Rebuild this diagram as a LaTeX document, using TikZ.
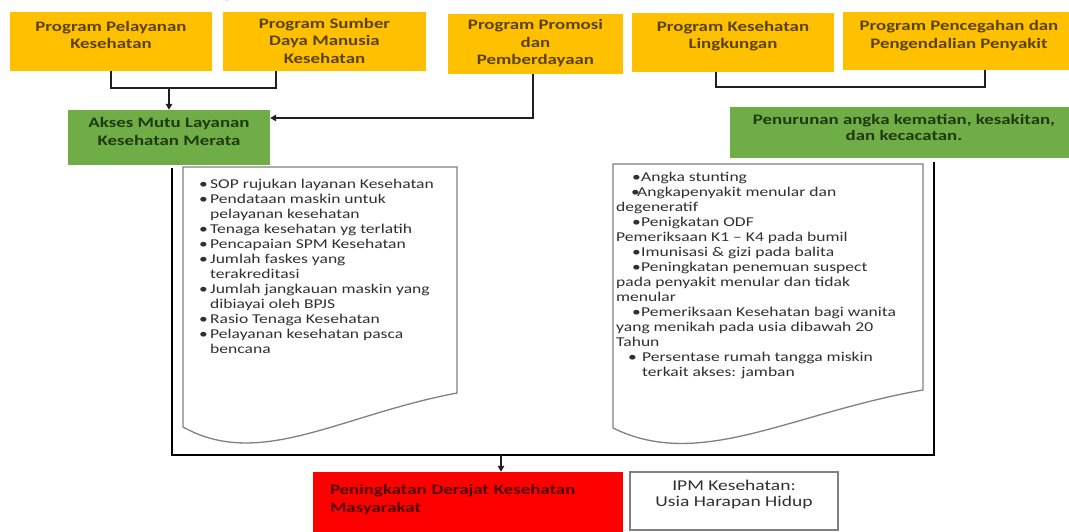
\documentclass[tikz,border=0pt]{standalone}
\usepackage{fontspec}
\setmainfont{Carlito}[FakeStretch=1.3]
\usetikzlibrary{arrows.meta,calc}
\definecolor{yel}{HTML}{FFC000}
\definecolor{yeltxt}{HTML}{5A4300}
\definecolor{grn}{HTML}{70AD47}
\definecolor{grntxt}{HTML}{1E3A10}
\definecolor{redtxt}{HTML}{500000}
\definecolor{doctxt}{HTML}{303030}
\definecolor{docline}{HTML}{808080}
\newcommand\myup[2]{\raisebox{#1}[\height][\depth]{#2}}
\newcommand\myctr[1]{\begin{tabular}{@{}c@{}}#1\end{tabular}}
\newcommand\mylft[1]{\begin{tabular}{@{}l@{}}#1\end{tabular}}
\begin{document}
\begin{tikzpicture}[x=1pt,y=-1pt,
  prog/.style={fill=yel, inner sep=0pt, text=yeltxt, font=\fontsize{14.5}{17.5}\selectfont\bfseries},
  goal/.style={fill=grn, inner sep=0pt, text=grntxt, font=\fontsize{14.5}{18}\selectfont\bfseries},
  doctext/.style={inner sep=0pt, text=doctxt, font=\fontsize{13.5}{15}\selectfont},
  docshape/.style={draw=docline, line width=1.3pt, fill=white},
  conn/.style={draw=black!88, line width=2pt},
  arr/.style={conn, -{Triangle[length=6pt,width=6.5pt]}}]
\useasboundingbox (0,0) rectangle (1069,532);
\fill[white] (0,0) rectangle (1069,532);

% fragment of a cut-off heading
\node[anchor=base, inner sep=0pt, text=black!85, font=\fontsize{30}{30}\selectfont] (hd) at (227,-4) {g};

% programme boxes
\node[prog, minimum width=202pt, minimum height=59pt] (p1) at (111,41.5)
  {\myup{5pt}{\myctr{Program Pelayanan\\Kesehatan}}};
\node[prog, minimum width=203pt, minimum height=59pt] (p2) at (324.5,41.5)
  {\myup{-1pt}{\myctr{Program Sumber\\Daya Manusia\\Kesehatan}}};
\node[prog, minimum width=175pt, minimum height=60pt] (p3) at (535.5,44)
  {\myctr{Program Promosi\\dan\\Pemberdayaan}};
\node[prog, minimum width=202pt, minimum height=59pt] (p4) at (733,42.5)
  {\myup{6pt}{\myctr{Program Kesehatan\\Lingkungan}}};
\node[prog, minimum width=232pt, minimum height=58pt] (p5) at (959,41)
  {\myup{5pt}{\myctr{Program Pencegahan dan\\Pengendalian Penyakit}}};

% green outcome boxes
\node[goal, minimum width=202pt, minimum height=55pt] (a1) at (169,137.5)
  {\myup{5pt}{\myctr{Akses Mutu Layanan\\Kesehatan Merata}}};
\node[goal, minimum width=348pt, minimum height=51pt, font=\fontsize{14.5}{15.5}\selectfont\bfseries] (g2) at (904,132.5)
  {\myup{3pt}{\myctr{Penurunan angka kematian, kesakitan,\\dan kecacatan.}}};

% connectors at the top
\coordinate (c1) at (276,88);
\draw[conn] (p1.south) |- (c1) -- (p2.south -| c1);
\draw[arr] (a1.north |- c1) -- (a1.north);
\coordinate (c2) at (533,118);
\draw[arr] (p3.south -| c2) -- (c2) -- (a1.east |- c2);
\coordinate (c3) at (716,87);
\coordinate (c4) at (985,87);
\draw[conn] (p4.south -| c3) -- (c3) -- (c4) -- (p5.south -| c4);

% enclosing frame
\coordinate (f1) at (172,455);
\coordinate (f2) at (934,455);
\draw[conn, draw=black] ($(a1.south -| f1)+(0,3)$) -- (f1) -- (f2) -- ($(g2.south -| f2)+(0,4)$);

% document shapes
\draw[docshape] (183,167) -- (457,167) -- (457,393)
  .. controls (340,415) and (260,470) .. (183,427) -- cycle;
\draw[docshape] (613,164) -- (923,164) -- (923,390)
  .. controls (791,413) and (700,471) .. (613,428) -- cycle;

\node[doctext, anchor=base west] (t1) at (199,189) {\begin{tabular}[t]{@{}p{11pt}@{}l@{}}
\textbullet & SOP rujukan layanan Kesehatan\\
\textbullet & Pendataan maskin untuk\\
 & pelayanan kesehatan\\
\textbullet & Tenaga kesehatan yg terlatih\\
\textbullet & Pencapaian SPM Kesehatan\\
\textbullet & Jumlah faskes yang\\
 & terakreditasi\\
\textbullet & Jumlah jangkauan maskin yang\\
 & dibiayai oleh BPJS\\
\textbullet & Rasio Tenaga Kesehatan\\
\textbullet & Pelayanan kesehatan pasca\\
 & bencana
\end{tabular}};

\node[doctext, anchor=base west] (t2) at (616,182) {\begin{tabular}[t]{@{}l@{}}
\hspace*{16pt}\makebox[9pt][l]{\textbullet}Angka stunting\\
\hspace*{15pt}\makebox[6pt][l]{\textbullet}Angkapenyakit menular dan\\
degeneratif\\
\hspace*{16pt}\makebox[9pt][l]{\textbullet}Penigkatan ODF\\
Pemeriksaan K1 – K4 pada bumil\\
\hspace*{16pt}\makebox[9pt][l]{\textbullet}Imunisasi \& gizi pada balita\\
\hspace*{16pt}\makebox[9pt][l]{\textbullet}Peningkatan penemuan suspect\\
pada penyakit menular dan tidak\\
menular\\
\hspace*{16pt}\makebox[9pt][l]{\textbullet}Pemeriksaan Kesehatan bagi wanita\\
yang menikah pada usia dibawah 20\\
Tahun\\
\hspace*{12pt}\makebox[14pt][l]{\textbullet}Persentase rumah tangga miskin\\
\hspace*{26pt}terkait akses: jamban
\end{tabular}};

% bottom boxes
\node[fill=red, inner sep=0pt, minimum width=310pt, minimum height=70pt, text=redtxt,
  font=\fontsize{14.5}{18}\selectfont\bfseries, text width=276pt] (r1) at (468,507)
  {\myup{7pt}{\mylft{Peningkatan Derajat Kesehatan\\Masyarakat}}};
\node[draw=docline, line width=1.3pt, fill=white, inner sep=0pt, minimum width=208pt, minimum height=58pt,
  text=doctxt, font=\fontsize{15}{16}\selectfont] (w1) at (734,501)
  {\myup{6pt}{\myctr{IPM Kesehatan:\\Usia Harapan Hidup}}};

\coordinate (c5) at (501,455);
\draw[arr] (c5) -- (c5 |- r1.north);
\end{tikzpicture}
\end{document}
